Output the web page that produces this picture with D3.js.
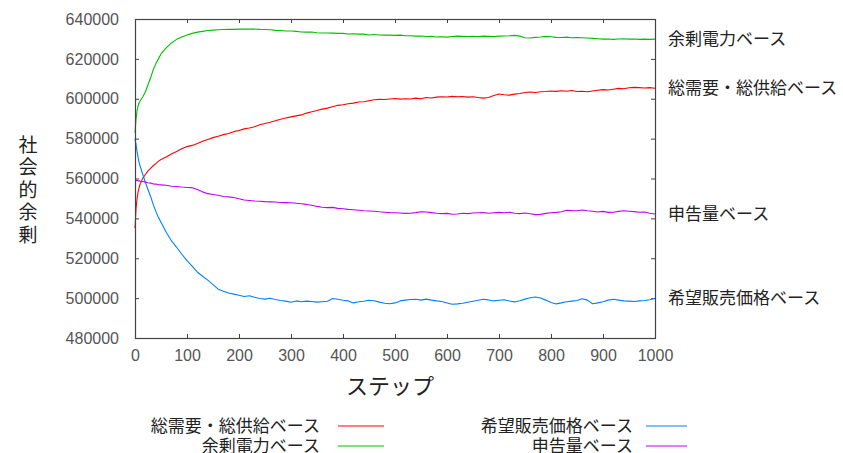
<!DOCTYPE html>
<html>
<head>
<meta charset="utf-8">
<script src="https://cdn.jsdelivr.net/npm/d3@7"></script>
<style>
  body { margin: 0; background: #fff; }
  svg { display: block; }
  .tick-label { font-family: "Liberation Sans", Arial, sans-serif; font-size: 16px; fill: #555; }
  .jp { font-family: "Noto Sans CJK JP", sans-serif; fill: #222; }
</style>
</head>
<body>
<div id="chart"></div>
<script>
// simulation steps (finer at the start where the curves move fast)
const steps = [0, 2, 4, 6, 8, 10, 15, 20, 25, 30, 35, 40, 45,
  50, 60, 70, 80, 90, 100, 110, 120, 130, 140, 150, 160, 170, 180, 190,
  200, 210, 220, 230, 240, 250, 260, 270, 280, 290, 300, 310, 320, 330, 340, 350, 360, 370, 380, 390,
  400, 410, 420, 430, 440, 450, 460, 470, 480, 490, 500, 510, 520, 530, 540, 550, 560, 570, 580, 590,
  600, 610, 620, 630, 640, 650, 660, 670, 680, 690, 700, 710, 720, 730, 740, 750, 760, 770, 780, 790,
  800, 810, 820, 830, 840, 850, 860, 870, 880, 890, 900, 910, 920, 930, 940, 950, 960, 970, 980, 990, 1000];

// social surplus, in thousands
const demandSupply = [535, 545, 550, 553.4, 555.5, 557.3, 560.2, 562, 563.8, 565.1, 566.4, 567.5, 568.6,
  569.5, 570.8, 572.3, 573.6, 574.9, 576.0, 576.6, 577.6, 578.7, 579.6, 580.5, 581.2, 582.0, 582.6, 583.5,
  584.1, 584.9, 585.3, 586.0, 587.0, 587.6, 588.2, 589.0, 589.7, 590.3, 590.9, 591.4, 591.9, 592.8, 593.5, 594.1, 594.8, 595.3, 596.0, 596.7,
  597.0, 597.5, 597.8, 598.4, 598.5, 599.0, 599.5, 599.7, 599.6, 599.9, 600.1, 599.8, 600.0, 599.9, 600.3, 600.0, 600.6, 600.4, 600.8, 601.0,
  600.9, 601.2, 601.0, 601.1, 600.8, 601.0, 600.6, 600.3, 600.6, 601.6, 602.4, 602.0, 601.8, 602.3, 602.6, 603.1, 603.4, 603.1, 603.5, 603.6,
  603.9, 603.7, 604.0, 603.8, 604.1, 603.6, 603.8, 603.5, 603.9, 604.3, 604.6, 604.4, 604.8, 605.2, 605.0, 605.5, 605.7, 605.6, 605.4, 605.6, 605.3];

const surplusPower = [583, 590, 594, 596.5, 598, 599, 601, 603.5, 607, 610.5, 614.5, 617.5, 620,
  622.5, 625.5, 628, 629.8, 631, 632, 632.8, 633.4, 633.8, 634.2, 634.4, 634.6, 634.7, 634.8, 634.8,
  634.9, 635.0, 634.9, 635.0, 634.8, 634.7, 634.6, 634.3, 634.2, 634.0, 634.0, 633.8, 633.5, 633.4, 633.5, 633.1, 633.0, 633.0, 632.9, 632.8,
  632.8, 632.5, 632.6, 632.4, 632.4, 632.0, 632.2, 632.0, 631.9, 631.9, 631.8, 631.9, 631.6, 631.6, 631.4, 631.5, 631.2, 631.3, 631.0, 631.1,
  630.9, 631.2, 631.4, 631.3, 631.2, 631.3, 631.2, 631.4, 631.3, 631.2, 631.4, 631.5, 631.6, 631.8, 631.4, 630.6, 630.5, 630.8, 631.0, 631.3,
  631.1, 630.8, 630.7, 630.9, 630.6, 630.7, 630.6, 630.5, 630.3, 630.1, 629.9, 630.0, 629.8, 630.0, 630.1, 629.9, 630.0, 629.8, 629.9, 629.8, 629.9];

const askPrice = [580.0, 577.0, 573.5, 570.5, 568.0, 566.0, 562.0, 558.0, 554.5, 551.0, 547.0, 543.5, 540.5,
  538.0, 533.0, 528.8, 525.5, 522.0, 518.8, 516.0, 513.0, 511.0, 509.0, 506.8, 504.5, 503.4, 502.6, 502.0,
  501.4, 500.8, 501.2, 500.4, 499.8, 499.5, 499.9, 499.3, 498.8, 498.5, 497.9, 498.6, 498.2, 498.5, 498.3, 498.0, 498.2, 498.4, 499.8, 499.4,
  498.9, 498.6, 497.6, 498.2, 498.4, 498.9, 498.7, 498.0, 497.4, 497.2, 497.6, 498.6, 499.0, 499.3, 499.4, 499.0, 499.5, 499.0, 498.6, 498.3,
  497.6, 496.9, 497.1, 497.4, 497.9, 498.4, 498.9, 499.4, 499.1, 498.6, 498.9, 499.2, 498.6, 498.1, 498.7, 499.5, 500.2, 500.6, 500.1, 499.0,
  497.8, 497.1, 497.6, 498.2, 498.5, 498.8, 499.7, 499.0, 497.2, 497.6, 498.2, 499.0, 499.4, 499.0, 498.6, 498.5, 498.3, 498.6, 498.8, 499.2, 499.9];

const bidVolume = [559.0, 558.9, 559.1, 558.8, 558.9, 558.6, 558.5, 558.2, 557.9, 557.7, 557.3, 557.2, 556.9,
  556.8, 556.6, 556.1, 556.0, 555.7, 555.5, 555.4, 554.5, 553.3, 552.4, 552.0, 551.6, 551.0, 550.8, 550.5,
  549.8, 549.2, 549.0, 548.7, 548.6, 548.4, 548.3, 548.2, 548.0, 547.9, 547.8, 547.6, 547.3, 547.0, 546.6, 546.0, 545.6, 545.4, 545.5, 545.0,
  544.8, 544.5, 544.3, 544.1, 543.8, 543.7, 543.6, 543.3, 543.1, 542.9, 542.8, 542.7, 542.5, 542.6, 542.9, 543.3, 543.2, 542.9, 542.6, 542.4,
  542.5, 542.1, 542.2, 542.6, 542.4, 542.7, 542.8, 542.9, 542.6, 542.8, 543.0, 542.8, 543.1, 542.6, 542.4, 542.7, 542.3, 541.9, 542.0, 542.5,
  542.8, 543.0, 543.3, 544.1, 543.9, 543.8, 544.2, 543.8, 543.6, 543.2, 543.5, 543.0, 543.1, 543.5, 543.8, 543.6, 543.4, 543.1, 543.2, 542.6, 542.2];

const seriesNames = ["総需要・総供給ベース", "余剰電力ベース", "希望販売価格ベース", "申告量ベース"];
const seriesColors = ["#ff0000", "#00c000", "#0080ff", "#c000ff"];
const seriesValues = [demandSupply, surplusPower, askPrice, bidVolume];

const yTicks = [480000, 500000, 520000, 540000, 560000, 580000, 600000, 620000, 640000];
const xTicks = [0, 100, 200, 300, 400, 500, 600, 700, 800, 900, 1000];

const width = 843, height = 453;
const margin = {top: 19, right: 188, bottom: 115, left: 135};
const plotW = width - margin.left - margin.right;
const plotH = height - margin.top - margin.bottom;

const svg = d3.select("#chart").append("svg")
  .attr("width", width)
  .attr("height", height);

const x = d3.scaleLinear().domain([0, 1000]).range([margin.left, margin.left + plotW]);
const y = d3.scaleLinear().domain([480000, 640000]).range([margin.top + plotH, margin.top]);

// frame with inward ticks on all four sides (gnuplot style)
const axisColor = "#444";
const tickLen = 4;

function styleAxis(g) {
  g.select(".domain").remove();
  g.selectAll(".tick line").attr("stroke", axisColor);
  g.selectAll(".tick text").attr("class", "tick-label").attr("fill", null);
}

svg.append("g")
  .attr("transform", `translate(0,${margin.top + plotH})`)
  .call(d3.axisBottom(x).tickValues(xTicks).tickSizeInner(-tickLen).tickSizeOuter(0).tickPadding(12).tickFormat(d3.format("d")))
  .call(styleAxis);

svg.append("g")
  .attr("transform", `translate(0,${margin.top})`)
  .call(d3.axisTop(x).tickValues(xTicks).tickSizeInner(-tickLen).tickSizeOuter(0).tickFormat(""))
  .call(styleAxis);

svg.append("g")
  .attr("transform", `translate(${margin.left},0)`)
  .call(d3.axisLeft(y).tickValues(yTicks).tickSizeInner(-tickLen).tickSizeOuter(0).tickPadding(16).tickFormat(d3.format("d")))
  .call(styleAxis);

svg.append("g")
  .attr("transform", `translate(${margin.left + plotW},0)`)
  .call(d3.axisRight(y).tickValues(yTicks).tickSizeInner(-tickLen).tickSizeOuter(0).tickFormat(""))
  .call(styleAxis);

// series lines
const line = d3.line()
  .x((d, i) => x(steps[i]))
  .y(d => y(d * 1000));

seriesValues.forEach((vals, k) => {
  svg.append("path")
    .datum(vals)
    .attr("fill", "none")
    .attr("stroke", seriesColors[k])
    .attr("stroke-width", 1.1)
    .attr("stroke-linejoin", "round")
    .attr("d", line);
});

svg.append("rect")
  .attr("x", margin.left + 0.5)
  .attr("y", margin.top + 0.5)
  .attr("width", plotW)
  .attr("height", plotH)
  .attr("fill", "none")
  .attr("stroke", axisColor)
  .attr("stroke-width", 1.2);

// labels at the right end of each line
seriesValues.forEach((vals, k) => {
  svg.append("text")
    .attr("class", "jp")
    .attr("x", margin.left + plotW + 13)
    .attr("y", y(vals[vals.length - 1] * 1000))
    .attr("dy", "0.35em")
    .attr("font-size", 17)
    .text(seriesNames[k]);
});

// axis titles
svg.append("text")
  .attr("class", "jp")
  .attr("x", (margin.left + margin.left + plotW) / 2 - 5)
  .attr("y", 386)
  .attr("dy", "0.35em")
  .attr("text-anchor", "middle")
  .attr("font-size", 22)
  .text("ステップ");

const yTitle = "社会的余剰";
svg.append("g").selectAll("text")
  .data(Array.from(yTitle))
  .enter()
  .append("text")
  .attr("class", "jp")
  .attr("x", 28)
  .attr("y", (d, i) => 145 + i * 22.5)
  .attr("dy", "0.35em")
  .attr("text-anchor", "middle")
  .attr("font-size", 19)
  .text(d => d);

// legend, two columns of two rows
const legendCols = [{textX: 320, x1: 338, x2: 384}, {textX: 633, x1: 646, x2: 687}];
const legendRows = [426, 446];
const legendOrder = [[0, 1], [2, 3]];

legendOrder.forEach((col, c) => {
  col.forEach((k, r) => {
    svg.append("text")
      .attr("class", "jp")
      .attr("x", legendCols[c].textX)
      .attr("y", legendRows[r])
      .attr("dy", "0.35em")
      .attr("text-anchor", "end")
      .attr("font-size", 17)
      .text(seriesNames[k]);
    svg.append("line")
      .attr("x1", legendCols[c].x1)
      .attr("x2", legendCols[c].x2)
      .attr("y1", legendRows[r])
      .attr("y2", legendRows[r])
      .attr("stroke", seriesColors[k])
      .attr("stroke-width", 1.2);
  });
});
</script>
</body>
</html>
